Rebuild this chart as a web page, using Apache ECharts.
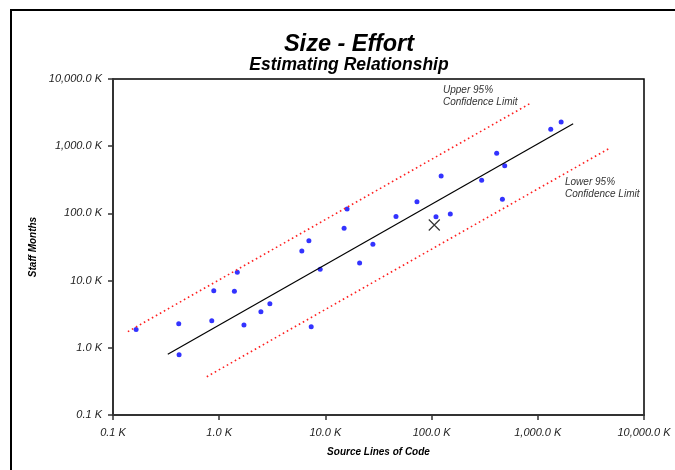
<!DOCTYPE html>
<html><head><meta charset="utf-8">
<script src="https://cdn.jsdelivr.net/npm/echarts@6/dist/echarts.min.js"></script>
<style>html,body{margin:0;padding:0;background:#fff}#c{width:675px;height:470px}</style>
</head><body><div id="c"></div>
<script>
// Tick labels (values in thousands)
const xTickLabels = ['0.1 K', '1.0 K', '10.0 K', '100.0 K', '1,000.0 K', '10,000.0 K'];
const yTickLabels = ['0.1 K', '1.0 K', '10.0 K', '100.0 K', '1,000.0 K', '10,000.0 K'];

// Historical projects: size (K source lines) and effort (K staff months)
const projectSize = [0.165, 0.416, 0.419, 0.851, 0.889, 1.39, 1.48, 1.71, 2.47, 3.00,
  6.00, 6.99, 7.35, 8.93, 15.0, 16.0, 21.0, 28.0, 46.2, 72.8,
  110, 123, 150, 296, 410, 488, 464, 1324, 1659];
const projectEffort = [1.88, 2.28, 0.789, 2.53, 7.08, 6.93, 13.3, 2.18, 3.44, 4.53,
  27.6, 39.2, 2.06, 14.7, 60.0, 116, 18.3, 34.7, 89.9, 149,
  89.3, 360, 97.9, 311, 784, 513, 162, 1783, 2291];

// New project estimate (X marker)
const estimateSize = [106];
const estimateEffort = [67.2];

// Estimating relationship and 95% confidence limits (end points)
const fitSize = [0.328, 2153];
const fitEffort = [0.80, 2162];
const upperSize = [0.138, 871];
const upperEffort = [1.74, 4440];
const lowerSize = [0.764, 4831];
const lowerEffort = [0.371, 950];

const zip = (a, b) => a.map((v, i) => [v, b[i]]);
const FONT = '"Liberation Sans", Arial, sans-serif';
const labelFor = (arr) => (v) => arr[Math.round(Math.log10(v)) + 1] || '';

const chart = echarts.init(document.getElementById('c'), null, {renderer: 'canvas'});
chart.setOption({
  animation: false,
  backgroundColor: '#fff',
  textStyle: {fontFamily: FONT},
  title: [
    {text: 'Size - Effort', left: 349, top: 33, textAlign: 'center', padding: 0,
     textStyle: {fontFamily: FONT, fontSize: 23.5, fontWeight: 'bold', fontStyle: 'italic', color: '#000'}},
    {text: 'Estimating Relationship', left: 349, top: 56, textAlign: 'center', padding: 0,
     textStyle: {fontFamily: FONT, fontSize: 17.5, fontWeight: 'bold', fontStyle: 'italic', color: '#000'}}
  ],
  grid: {left: 113, top: 79, right: 31, bottom: 55, show: true, borderColor: '#000', borderWidth: 1.5, backgroundColor: '#fff'},
  xAxis: {
    type: 'log', logBase: 10, min: 0.1, max: 10000,
    axisLine: {show: true, onZero: false, lineStyle: {color: '#333', width: 2}},
    axisTick: {show: true, inside: false, length: 5, lineStyle: {color: '#333', width: 1.5}},
    minorTick: {show: false},
    axisLabel: {formatter: labelFor(xTickLabels), fontFamily: FONT, fontStyle: 'italic', fontSize: 11, color: '#222', margin: 12},
    splitLine: {show: false},
    name: 'Source Lines of Code', nameLocation: 'middle', nameGap: 32,
    nameTextStyle: {fontFamily: FONT, fontStyle: 'italic', fontWeight: 'bold', fontSize: 10, color: '#000'}
  },
  yAxis: {
    type: 'log', logBase: 10, min: 0.1, max: 10000,
    axisLine: {show: true, onZero: false, lineStyle: {color: '#333', width: 2}},
    axisTick: {show: true, inside: false, length: 5, lineStyle: {color: '#333', width: 1.5}},
    axisLabel: {formatter: labelFor(yTickLabels), fontFamily: FONT, fontStyle: 'italic', fontSize: 11, color: '#222', margin: 11},
    splitLine: {show: false},
    name: 'Staff Months', nameLocation: 'middle', nameGap: 74,
    nameTextStyle: {fontFamily: FONT, fontStyle: 'italic', fontWeight: 'bold', fontSize: 10, color: '#000'}
  },
  graphic: [
    {type: 'rect', silent: true, z: 100,
     shape: {x: 11, y: 10, width: 700, height: 500},
     style: {fill: 'none', stroke: '#000', lineWidth: 2}},
    {type: 'text', x: 443, y: 84, z: 100,
     style: {text: 'Upper 95%\nConfidence Limit', fontFamily: FONT, fontStyle: 'italic', fontSize: 10, lineHeight: 12, fill: '#333'}},
    {type: 'text', x: 565, y: 176, z: 100,
     style: {text: 'Lower 95%\nConfidence Limit', fontFamily: FONT, fontStyle: 'italic', fontSize: 10, lineHeight: 12, fill: '#333'}}
  ],
  series: [
    {type: 'line', data: zip(upperSize, upperEffort), symbol: 'none',
     lineStyle: {color: '#ff2020', width: 1.6, type: [1.6, 3]}},
    {type: 'line', data: zip(lowerSize, lowerEffort), symbol: 'none',
     lineStyle: {color: '#ff2020', width: 1.6, type: [1.6, 3]}},
    {type: 'line', data: zip(fitSize, fitEffort), symbol: 'none',
     lineStyle: {color: '#000', width: 1.2}},
    {type: 'scatter', data: zip(projectSize, projectEffort), symbol: 'circle', symbolSize: 5,
     itemStyle: {color: '#0000ff'}},
    {type: 'scatter', data: zip(estimateSize, estimateEffort),
     symbol: 'path://M0,0L10,10M10,0L0,10', symbolSize: 11,
     itemStyle: {color: 'none', borderColor: '#000', borderWidth: 1.2}}
  ]
});
</script>
</body></html>
